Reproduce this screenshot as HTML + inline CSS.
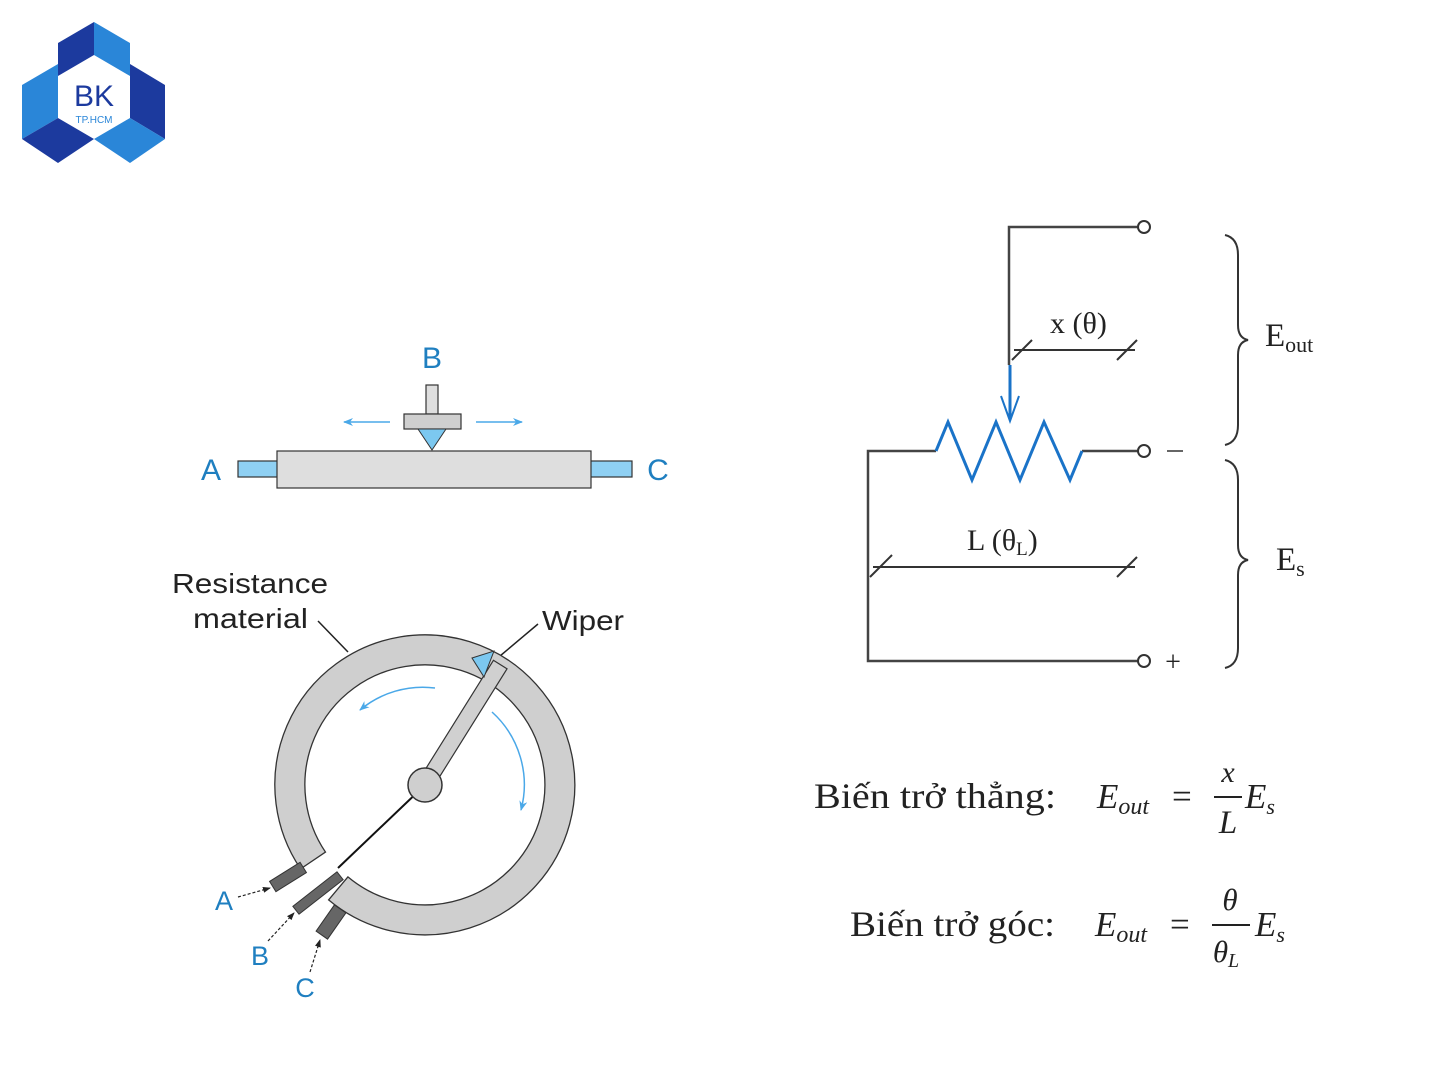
<!DOCTYPE html>
<html><head><meta charset="utf-8"><style>
html,body{margin:0;padding:0;background:#fff;}
svg{display:block;}
.s{font-family:"Liberation Sans",sans-serif;}
.r{font-family:"Liberation Serif",serif;}
</style></head><body>
<svg width="1441" height="1081" viewBox="0 0 1441 1081" xmlns="http://www.w3.org/2000/svg">
<defs>
<marker id="ab" markerWidth="10" markerHeight="8" refX="9" refY="4" orient="auto" markerUnits="userSpaceOnUse"><path d="M0,0 L10,4 L0,8 L3,4 Z" fill="#4aa8e8"/></marker>
<marker id="ak" markerWidth="8" markerHeight="6" refX="7" refY="3" orient="auto" markerUnits="userSpaceOnUse"><path d="M0,0 L8,3 L0,6 Z" fill="#222"/></marker>
</defs>
<!-- logo -->
<polygon points="58,43 94,22 94,55 58,76" fill="#1c3a9e"/>
<polygon points="94,22 130,43 130,76 94,55" fill="#2a86d8"/>
<polygon points="22,85 58,64 58,118 22,139" fill="#2a86d8"/>
<polygon points="22,139 58,118 94,139 58,163" fill="#1c3a9e"/>
<polygon points="130,64 165,85 165,139 130,118" fill="#1c3a9e"/>
<polygon points="130,118 165,139 130,163 94,139" fill="#2a86d8"/>
<polygon points="94,58 127,77 127,117 94,136 61,117 61,77" fill="#fff"/>
<text x="94" y="106" class="s" font-size="30" fill="#1c3a9e" text-anchor="middle">BK</text>
<text x="94" y="123" class="s" font-size="10" fill="#2a86d8" text-anchor="middle">TP.HCM</text>

<!-- linear pot -->
<text x="432" y="368" class="s" font-size="30" fill="#1f7fc0" text-anchor="middle">B</text>
<text x="211" y="480" class="s" font-size="30" fill="#1f7fc0" text-anchor="middle">A</text>
<text x="658" y="480" class="s" font-size="30" fill="#1f7fc0" text-anchor="middle">C</text>
<rect x="238" y="461" width="40" height="16" fill="#8fd0f3" stroke="#333" stroke-width="1.2"/>
<rect x="590" y="461" width="42" height="16" fill="#8fd0f3" stroke="#333" stroke-width="1.2"/>
<rect x="277" y="451" width="314" height="37" fill="#dedede" stroke="#333" stroke-width="1.2"/>
<rect x="426" y="385" width="12" height="29" fill="#dedede" stroke="#333" stroke-width="1.2"/>
<rect x="404" y="414" width="57" height="15" fill="#cfcfcf" stroke="#333" stroke-width="1.2"/>
<polygon points="418,429 446,429 432,450" fill="#7cc8f0" stroke="#333" stroke-width="1"/>
<line x1="390" y1="422" x2="344" y2="422" stroke="#4aa8e8" stroke-width="1.5" marker-end="url(#ab)"/>
<line x1="476" y1="422" x2="522" y2="422" stroke="#4aa8e8" stroke-width="1.5" marker-end="url(#ab)"/>

<!-- rotary pot -->
<text x="172" y="593" class="s" font-size="28" fill="#222" textLength="156" lengthAdjust="spacingAndGlyphs">Resistance</text>
<text x="193" y="628" class="s" font-size="28" fill="#222" textLength="115" lengthAdjust="spacingAndGlyphs">material</text>
<text x="542" y="630" class="s" font-size="28" fill="#222" textLength="82" lengthAdjust="spacingAndGlyphs">Wiper</text>
<line x1="318" y1="621" x2="348" y2="652" stroke="#222" stroke-width="1.5"/>
<line x1="538" y1="624" x2="500" y2="656" stroke="#222" stroke-width="1.5"/>
<path d="M300.6,868.9 A150,150 0 1 1 328.6,899.9 L347.9,876.9 A120,120 0 1 0 325.5,852.1 Z" fill="#cfcfcf" stroke="#333" stroke-width="1.3"/>
<line x1="425" y1="785" x2="338" y2="868" stroke="#111" stroke-width="2"/>
<g transform="translate(288,877) rotate(-32)"><rect x="-18" y="-6" width="36" height="12" fill="#666" stroke="#333"/></g>
<g transform="translate(318,893) rotate(-38)"><rect x="-28" y="-5" width="56" height="10" fill="#666" stroke="#333"/></g>
<g transform="translate(331,922) rotate(-55)"><rect x="-16" y="-7" width="32" height="14" fill="#666" stroke="#333"/></g>
<g transform="translate(425,785) rotate(-58)"><rect x="0" y="-8" width="142" height="16" fill="#d0d0d0" stroke="#333" stroke-width="1.2"/></g>
<polygon points="472,658 494,651 484,677" fill="#7cc8f0" stroke="#333" stroke-width="1"/>
<circle cx="425" cy="785" r="17" fill="#cfcfcf" stroke="#333" stroke-width="1.5"/>
<path d="M435,688 A98,98 0 0 0 360,710" fill="none" stroke="#4aa8e8" stroke-width="1.5" marker-end="url(#ab)"/>
<path d="M492,712 A98,98 0 0 1 521,810" fill="none" stroke="#4aa8e8" stroke-width="1.5" marker-end="url(#ab)"/>
<text x="224" y="910" class="s" font-size="27" fill="#1f7fc0" text-anchor="middle">A</text>
<text x="260" y="965" class="s" font-size="27" fill="#1f7fc0" text-anchor="middle">B</text>
<text x="305" y="997" class="s" font-size="27" fill="#1f7fc0" text-anchor="middle">C</text>
<line x1="238" y1="897" x2="270" y2="888" stroke="#222" stroke-width="1.2" stroke-dasharray="3,2" marker-end="url(#ak)"/>
<line x1="268" y1="941" x2="294" y2="913" stroke="#222" stroke-width="1.2" stroke-dasharray="3,2" marker-end="url(#ak)"/>
<line x1="310" y1="972" x2="320" y2="940" stroke="#222" stroke-width="1.2" stroke-dasharray="3,2" marker-end="url(#ak)"/>

<!-- circuit -->
<g stroke="#444" stroke-width="2.5" fill="none">
<polyline points="1138,227 1009,227 1009,365"/>
<polyline points="936,451 868,451 868,661 1138,661"/>
<line x1="1082" y1="451" x2="1138" y2="451"/>
</g>
<g stroke="#333" stroke-width="2" fill="#fff">
<circle cx="1144" cy="227" r="6"/><circle cx="1144" cy="451" r="6"/><circle cx="1144" cy="661" r="6"/>
</g>
<polyline points="936,451 948,422 972,480 996,422 1020,480 1044,422 1070,480 1082,451" fill="none" stroke="#1a73c8" stroke-width="3" stroke-linejoin="miter"/>
<line x1="1010" y1="365" x2="1010" y2="420" stroke="#1a73c8" stroke-width="3"/>
<polyline points="1001,396 1010,421 1019,396" fill="none" stroke="#1a73c8" stroke-width="2"/>
<line x1="1167" y1="451" x2="1183" y2="451" stroke="#666" stroke-width="2"/>
<text x="1173" y="671" class="r" font-size="28" fill="#222" text-anchor="middle">+</text>
<g stroke="#333" stroke-width="2" fill="none">
<line x1="1014" y1="350" x2="1135" y2="350"/>
<line x1="1012" y1="360" x2="1032" y2="340"/>
<line x1="1117" y1="360" x2="1137" y2="340"/>
<line x1="873" y1="567" x2="1135" y2="567"/>
<line x1="870" y1="577" x2="892" y2="555"/>
<line x1="1117" y1="577" x2="1137" y2="557"/>
<path d="M1225,235 Q1238,238 1238,255 L1238,325 Q1238,338 1248,340 Q1238,342 1238,355 L1238,425 Q1238,442 1225,445"/>
<path d="M1225,460 Q1238,463 1238,480 L1238,545 Q1238,558 1248,560 Q1238,562 1238,575 L1238,648 Q1238,665 1225,668"/>
</g>
<text x="1050" y="333" class="r" font-size="30" fill="#222">x (θ)</text>
<text x="967" y="550" class="r" font-size="30" fill="#222">L (θ<tspan font-size="19" dy="5">L</tspan><tspan dy="-5">)</tspan></text>
<text x="1265" y="346" class="r" font-size="33" fill="#222">E<tspan font-size="22" dy="6">out</tspan></text>
<text x="1276" y="570" class="r" font-size="33" fill="#222">E<tspan font-size="22" dy="6">s</tspan></text>

<!-- equations -->
<g class="r" fill="#222">
<text x="814" y="808" font-size="36" textLength="242" lengthAdjust="spacingAndGlyphs">Biến trở thẳng:</text>
<text x="1097" y="808" font-size="35" font-style="italic">E<tspan font-size="24" dy="6">out</tspan></text>
<text x="1172" y="808" font-size="35">=</text>
<text x="1228" y="782" font-size="30" font-style="italic" text-anchor="middle">x</text>
<line x1="1214" y1="797" x2="1242" y2="797" stroke="#222" stroke-width="2"/>
<text x="1228" y="833" font-size="33" font-style="italic" text-anchor="middle">L</text>
<text x="1245" y="808" font-size="35" font-style="italic">E<tspan font-size="22" dy="6">s</tspan></text>

<text x="850" y="936" font-size="36" textLength="205" lengthAdjust="spacingAndGlyphs">Biến trở góc:</text>
<text x="1095" y="936" font-size="35" font-style="italic">E<tspan font-size="24" dy="6">out</tspan></text>
<text x="1170" y="936" font-size="35">=</text>
<text x="1230" y="910" font-size="31" font-style="italic" text-anchor="middle">θ</text>
<line x1="1212" y1="925" x2="1250" y2="925" stroke="#222" stroke-width="2"/>
<text x="1226" y="962" font-size="31" font-style="italic" text-anchor="middle">θ<tspan font-size="20" dy="5">L</tspan></text>
<text x="1255" y="936" font-size="35" font-style="italic">E<tspan font-size="22" dy="6">s</tspan></text>
</g>
</svg>
</body></html>
